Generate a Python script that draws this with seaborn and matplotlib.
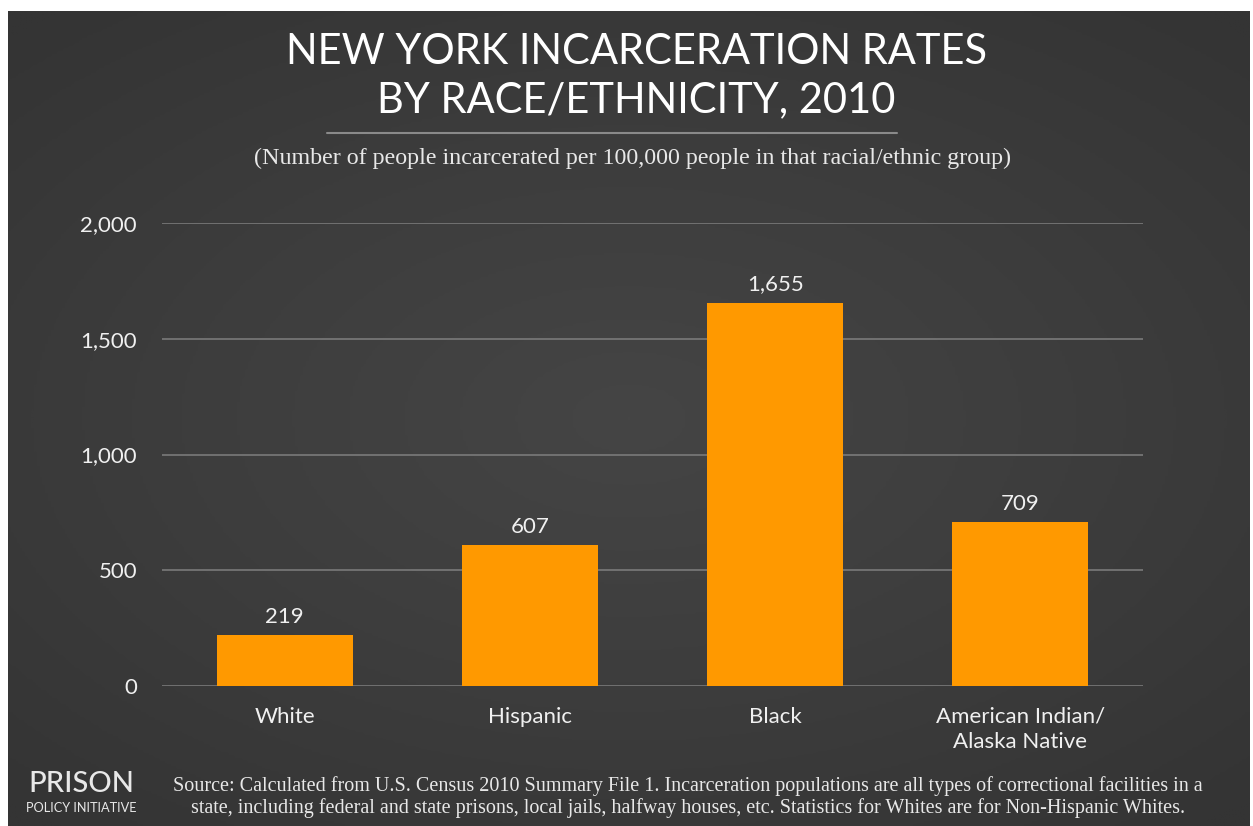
import numpy as np
import pandas as pd
import matplotlib
matplotlib.use("Agg")
import matplotlib.pyplot as plt
from matplotlib.colors import LinearSegmentedColormap
import seaborn as sns

categories = ["White", "Hispanic", "Black", "American Indian/\nAlaska Native"]
rates = [219, 607, 1655, 709]
yticks = [0, 500, 1000, 1500, 2000]

title = "NEW YORK INCARCERATION RATES\nBY RACE/ETHNICITY, 2010"
subtitle = "(Number of people incarcerated per 100,000 people in that racial/ethnic group)"
source = ("Source: Calculated from U.S. Census 2010 Summary File 1. Incarceration populations are all types of correctional facilities in a\n"
          "state, including federal and state prisons, local jails, halfway houses, etc. Statistics for Whites are for Non-Hispanic Whites.")

sns.set_theme(style="dark")
SANS = ["Lato", "DejaVu Sans"]
SERIF = ["Liberation Serif", "DejaVu Serif"]
plt.rcParams["font.family"] = SANS

W, H = 1253, 826
fig = plt.figure(figsize=(W / 100, H / 100), dpi=100, facecolor="white")

# background panel with soft radial gradient
bg = fig.add_axes([8 / W, 0, (1250 - 8) / W, (H - 11) / H])
bg.set_axis_off()
yy, xx = np.mgrid[-1:1:300j, -1:1:450j]
r = np.sqrt((xx * 0.9) ** 2 + (yy * 1.0) ** 2)
cmap = LinearSegmentedColormap.from_list("bg", ["#454545", "#3d3d3d", "#343434"])
bg.imshow(r, cmap=cmap, aspect="auto", extent=[0, 1, 0, 1], vmin=0, vmax=1.3)

# main axes
x0, x1 = 162, 1143
ytop, ybot = 223, 686
ax = fig.add_axes([x0 / W, (H - ybot) / H, (x1 - x0) / W, (ybot - ytop) / H])
ax.patch.set_alpha(0)
df = pd.DataFrame({"group": categories, "rate": rates})
sns.barplot(data=df, x="group", y="rate", color="#FF9900", saturation=1,
            width=0.555, ax=ax, zorder=3, linewidth=0, edgecolor="none")
ax.set_ylim(0, 2000)
ax.set_xlim(-0.5, 3.5)
ax.set_yticks(yticks)
ax.set_yticklabels([f"{v:,}" for v in yticks])
ax.grid(axis="y", color="#7a7a7a", linewidth=1.2, zorder=0)
ax.grid(axis="x", visible=False)
for s in ax.spines.values():
    s.set_visible(False)
ax.set_xlabel("")
ax.set_ylabel("")
ax.tick_params(axis="y", colors="white", labelsize=16, pad=18, length=0)
ax.tick_params(axis="x", colors="white", labelsize=16, pad=15, length=0)
for lab in ax.get_yticklabels() + ax.get_xticklabels():
    lab.set_color("#f0f0f0")
    lab.set_linespacing(1.3)
ax.bar_label(ax.containers[0], labels=[f"{v:,}" for v in rates], padding=6,
             color="#f0f0f0", fontsize=16)

# titles
fig.text(636 / W, 1 - 76 / H, title, ha="center", va="center", color="white",
         fontsize=30, linespacing=1.33)
fig.add_artist(plt.Line2D([327 / W, 897 / W], [1 - 133 / H, 1 - 133 / H],
                          color="#8a8a8a", linewidth=1.5))
fig.text(632 / W, 1 - 158 / H, subtitle, ha="center", va="center", color="#e8e8e8",
         fontsize=17.3, family=SERIF)

# footer
fig.text(81 / W, 1 - 784 / H, "PRISON", ha="center", va="center", color="#e8e8e8",
         fontsize=21, fontweight="medium")
fig.text(81 / W, 1 - 808 / H, "POLICY INITIATIVE", ha="center", va="center",
         color="#e8e8e8", fontsize=9.2)
fig.text(688 / W, 1 - 797 / H, source, ha="center", va="center", color="#e8e8e8",
         fontsize=14.5, family=SERIF, linespacing=1.2)

fig.savefig("out.png", dpi=100, facecolor="white")
